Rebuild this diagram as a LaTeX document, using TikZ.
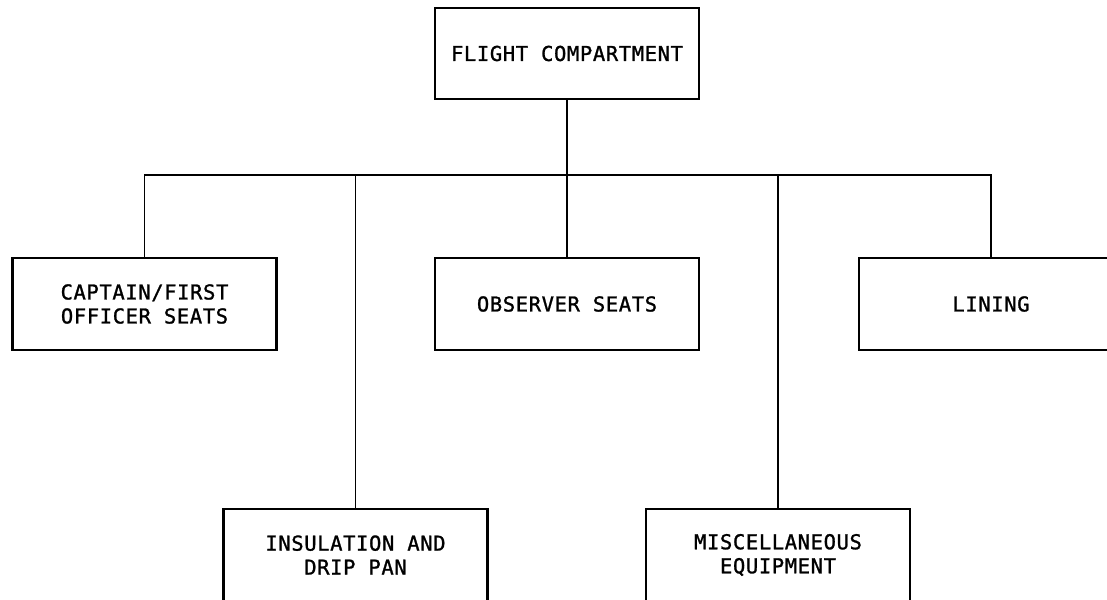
\documentclass[tikz,border=0pt]{standalone}
\usepackage{fontspec}
\newfontfamily\monofont[LetterSpace=3,FakeBold=1.2]{DejaVu Sans Mono}
\usetikzlibrary{positioning}

\begin{document}
\begin{tikzpicture}[x=1pt,y=-1pt,
    boite/.style={draw,line width=2.4pt,minimum width=264pt,minimum height=92pt,align=center,font=\monofont\fontsize{20.5}{24}\selectfont},
    lien/.style={line width=1.3pt}]
    % Cadre et arborescence
    \useasboundingbox (0,0) rectangle (1107,599);
    \clip (0,0) rectangle (1107,599);
    \node[boite,minimum height=91pt] (fc) at (567,53.5) {FLIGHT COMPARTMENT};
    \node[boite] (cap) at (144.5,304) {CAPTAIN/FIRST\\OFFICER SEATS};
    \node[boite] (obs) at (567,304) {OBSERVER SEATS};
    \node[boite] (lin) at (991,304) {LINING};
    \node[boite] (ins) at (355.5,555) {INSULATION AND\\DRIP PAN};
    \node[boite] (misc) at (778,555) {MISCELLANEOUS\\EQUIPMENT};
    \coordinate (bus) at (567,175);

    \draw[lien] (fc.south) -- (bus);
    \draw[lien] (cap.north) |- (bus) -| (lin.north);
    \draw[lien] (obs.north) -- (bus);
    \draw[lien] (ins.north) -- (ins.north |- bus);
    \draw[lien] (misc.north) -- (misc.north |- bus);
\end{tikzpicture}
\end{document}
